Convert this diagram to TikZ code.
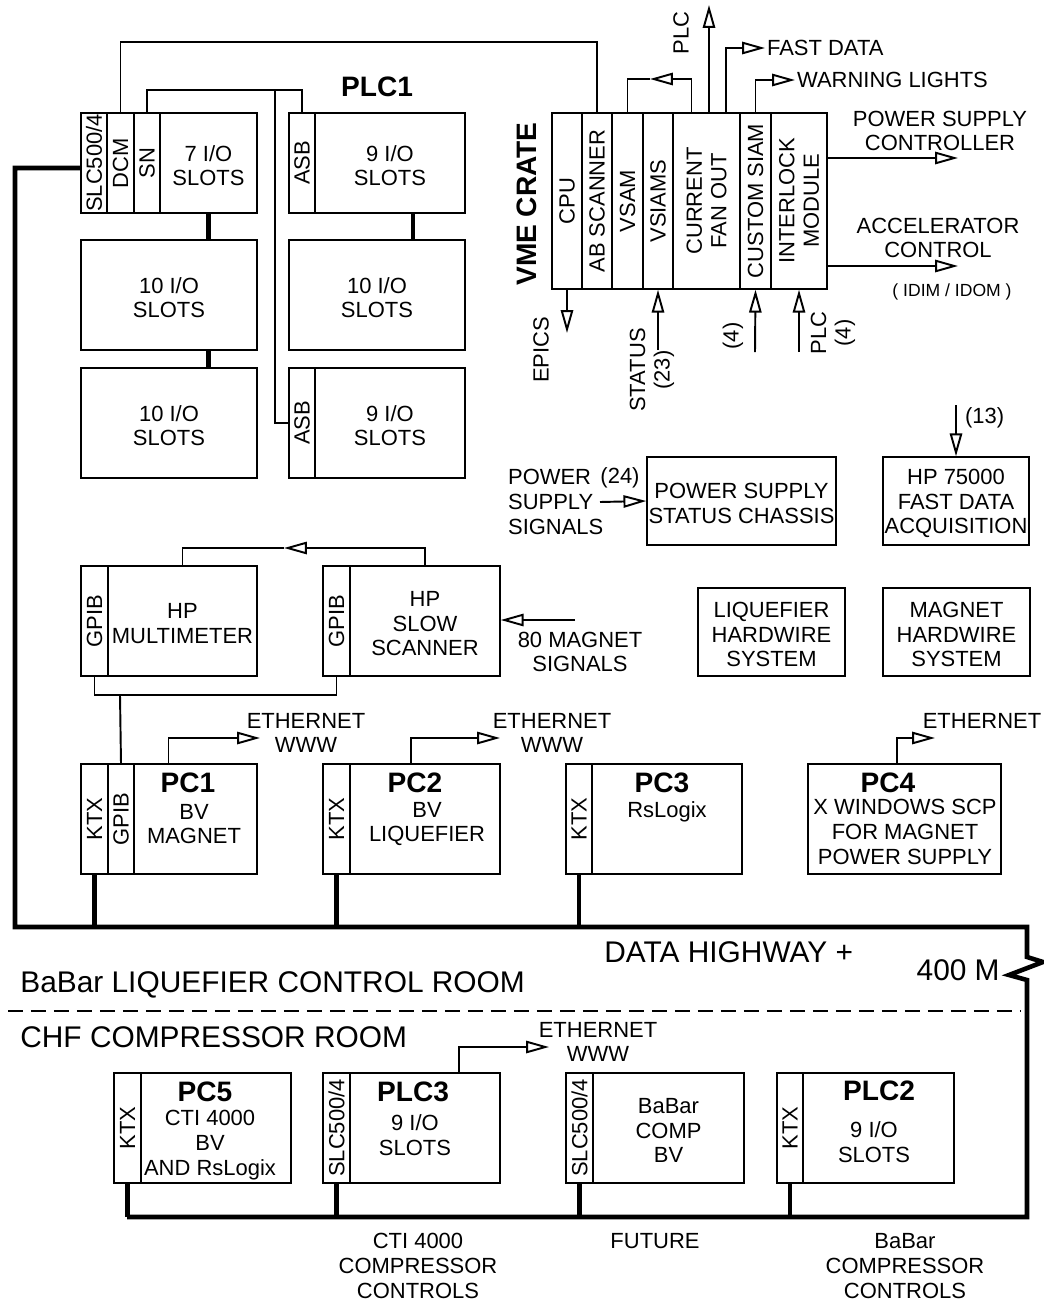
\documentclass[tikz,border=0pt]{standalone}
\usepackage{fontspec}
\setmainfont{Liberation Sans}
\usetikzlibrary{arrows.meta,fit,calc}

\tikzset{
  blk/.style={draw, line width=0.8pt, inner sep=0pt, align=center},
  txt/.style={label={[lbl, yshift=-1.5pt]center:{#1}}},
  sig/.style={line width=1.1pt},
  bus/.style={line width=2.6pt},
  otri/.style={-{Triangle[open,length=13pt,width=7pt]}},
  lbl/.style={inner sep=1pt, align=center},
  ttl/.style={inner sep=0pt, font=\bfseries\fontsize{16}{18}\selectfont},
  room/.style={inner sep=0pt, anchor=west, font=\fontsize{17}{20}\selectfont},
}

\begin{document}
\begin{tikzpicture}[x=0.02cm, y=-0.02cm, font=\fontsize{12.5}{14}\selectfont]
  \useasboundingbox (0,0) rectangle (1044,1302);

  % PLC1 rack
  \node[ttl] (plcone) at (377,87) {PLC1};
  \node[blk, fit={(81,113)(107,213)}] (slcA) {};
  \node[blk, fit={(107,113)(134,213)}] (dcm) {};
  \node[blk, fit={(134,113)(160,213)}] (sn) {};
  \node[blk, txt={7 I/O\\SLOTS}, fit={(160,113)(257,213)}] (ioA) {};
  \node[blk, fit={(289,113)(315,213)}] (asbA) {};
  \node[blk, txt={9 I/O\\SLOTS}, fit={(315,113)(465,213)}] (ioB) {};
  \node[blk, txt={10 I/O\\SLOTS}, fit={(81,240)(257,350)}] (ioC) {};
  \node[blk, txt={10 I/O\\SLOTS}, fit={(289,240)(465,350)}] (ioD) {};
  \node[blk, txt={10 I/O\\SLOTS}, fit={(81,368)(257,478)}] (ioE) {};
  \node[blk, fit={(289,368)(315,478)}] (asbC) {};
  \node[blk, txt={9 I/O\\SLOTS}, fit={(315,368)(465,478)}] (ioF) {};
  \node[rotate=90] (slcAl) at (slcA) {SLC500/4};
  \node[rotate=90] (dcml) at (dcm) {DCM};
  \node[rotate=90] (snl) at (sn) {SN};
  \node[rotate=90] (asbAl) at (asbA) {ASB};
  \node[rotate=90] (asbCl) at (asbC) {ASB};
  \draw[bus] (ioA.south) -- (ioA.south |- ioC.north);
  \draw[bus] (ioA.south |- ioC.south) -- (ioA.south |- ioE.north);
  \draw[bus] ($(ioB.south)+(23,0)$) coordinate (lk) -- (lk |- ioD.north);
  \coordinate (snj) at (275,91);
  \draw[sig] (sn.north) -- ++(0,-22) -| (asbA.north);
  \draw[sig] (snj) |- (asbC.west);

  % VME crate
  \node[ttl, rotate=90] (vmel) at (527,204) {VME CRATE};
  \node[blk, fit={(552,113)(582,289)}] (cpu) {};
  \node[blk, fit={(582,113)(612,289)}] (absc) {};
  \node[blk, fit={(612,113)(643,289)}] (vsam) {};
  \node[blk, fit={(643,113)(673,289)}] (vsiams) {};
  \node[blk, fit={(673,113)(740,289)}] (fan) {};
  \node[blk, fit={(740,113)(771,289)}] (csiam) {};
  \node[blk, fit={(771,113)(827,289)}] (intl) {};
  \node[rotate=90] (cpul) at (cpu) {CPU};
  \node[rotate=90] (abscl) at (absc) {AB SCANNER};
  \node[rotate=90] (vsaml) at (vsam) {VSAM};
  \node[rotate=90] (vsiamsl) at (vsiams) {VSIAMS};
  \node[rotate=90, align=center] (fanl) at (fan) {CURRENT\\FAN OUT};
  \node[rotate=90] (csiaml) at (csiam) {CUSTOM SIAM};
  \node[rotate=90, align=center] (intll) at (intl) {INTERLOCK\\MODULE};
  \draw[sig] (dcm.north) -- ++(0,-70) -| (absc.north);

  % VME outputs
  \coordinate (vtip) at (650,79);
  \draw[sig,otri] ($(fan.north)+(-15,0)$) |- (vtip);
  \draw[sig] (vtip) -| (vsam.north);
  \coordinate (plcup) at (709,5);
  \draw[sig,otri] (fan.north -| plcup) -- (plcup);
  \node[lbl, rotate=90] (plctop) at (681,33) {PLC};
  \node[lbl, anchor=west] (fastd) at (765,48) {FAST DATA};
  \draw[sig,otri] ($(fan.north)+(19.5,0)$) |- (fastd.west);
  \node[lbl, anchor=west] (warn) at (795,80) {WARNING LIGHTS};
  \draw[sig,otri] (csiam.north) |- (warn.west);
  \node[lbl] (pscl) at (940,131) {POWER SUPPLY\\CONTROLLER};
  \coordinate (psc) at (958,158);
  \draw[sig,otri] (intl.east |- psc) -- (psc);
  \node[lbl] (accl) at (938,238) {ACCELERATOR\\CONTROL};
  \coordinate (acc) at (958,266);
  \draw[sig,otri] (intl.east |- acc) -- (acc);
  \node[lbl, font=\fontsize{10}{12}\selectfont] (idim) at (952,292) {( IDIM / IDOM )};

  % VME inputs
  \coordinate (epx) at (567,333);
  \draw[sig,otri] (cpu.south) -- (epx);
  \node[lbl, rotate=90] (epics) at (541,350) {EPICS};
  \coordinate (stin) at (658,350);
  \draw[sig,otri] (stin) -- (vsiams.south);
  \node[lbl, rotate=90] (statl) at (652,370) {STATUS\\(23)};
  \coordinate (fourin) at (755,352);
  \draw[sig,otri] (fourin) -- (csiam.south);
  \node[lbl, rotate=90] (fourl) at (733,336) {(4)};
  \coordinate (plcin) at (799,352);
  \draw[sig,otri] (plcin) -- (intl.south);
  \node[lbl, rotate=90] (plcinl) at (833,333) {PLC\\(4)};

  % status chassis, fast data, hardwire
  \node[blk, txt={POWER SUPPLY\\STATUS CHASSIS}, fit={(647,457)(836,545)}] (psstat) {};
  \node[lbl, anchor=west, align=left] (pssig) at (506,502) {POWER\\SUPPLY\\SIGNALS};
  \node[lbl] (n24) at (620,478) {(24)};
  \coordinate (pssin) at (600,502);
  \draw[sig,otri] (pssin) -- (psstat.west);
  \node[blk, txt={HP 75000\\FAST DATA\\ACQUISITION}, fit={(883,457)(1029,545)}] (hpfast) {};
  \coordinate (in13) at (956,405);
  \draw[sig,otri] (in13) -- (hpfast.north);
  \node[lbl, anchor=west] (n13) at (963,418) {(13)};
  \node[blk, txt={LIQUEFIER\\HARDWIRE\\SYSTEM}, fit={(698,588)(845,676)}] (liqhw) {};
  \node[blk, txt={MAGNET\\HARDWIRE\\SYSTEM}, fit={(883,588)(1030,676)}] (maghw) {};

  % HP instruments
  \node[blk, fit={(81,566)(108,676)}] (gpibM) {};
  \node[blk, txt={HP\\MULTIMETER}, fit={(108,566)(257,676)}] (mult) {};
  \node[blk, fit={(323,566)(350,676)}] (gpibS) {};
  \node[blk, txt={HP\\SLOW\\SCANNER}, fit={(350,566)(500,676)}] (scan) {};
  \node[rotate=90] (gpibMl) at (gpibM) {GPIB};
  \node[rotate=90] (gpibSl) at (gpibS) {GPIB};
  \coordinate (hptip) at (284,548);
  \draw[sig,otri] (scan.north) |- (hptip);
  \draw[sig] (hptip) -| (mult.north);
  \coordinate (m80) at (575,620);
  \draw[sig,otri] (m80) -- (scan.east |- m80);
  \node[lbl] (m80l) at (580,652) {80 MAGNET\\SIGNALS};

  % PCs
  \node[blk, fit={(81,764)(108,874)}] (ktxA) {};
  \node[blk, fit={(108,764)(134,874)}] (gpibP) {};
  \node[blk, fit={(134,764)(257,874)}] (pcA) {};
  \node[rotate=90] (ktxAl) at (ktxA) {KTX};
  \node[rotate=90] (gpibPl) at (gpibP) {GPIB};
  \node[ttl] (pcAt) at (188,783) {PC1};
  \node[lbl] (pcAb) at (194,824) {BV\\MAGNET};
  \node[blk, fit={(323,764)(350,874)}] (ktxB) {};
  \node[blk, fit={(350,764)(500,874)}] (pcB) {};
  \node[rotate=90] (ktxBl) at (ktxB) {KTX};
  \node[ttl] (pcBt) at (415,783) {PC2};
  \node[lbl] (pcBb) at (427,824) {BV\\LIQUEFIER};
  \node[blk, fit={(566,764)(592,874)}] (ktxC) {};
  \node[blk, fit={(592,764)(742,874)}] (pcC) {};
  \node[rotate=90] (ktxCl) at (ktxC) {KTX};
  \node[ttl] (pcCt) at (662,783) {PC3};
  \node[lbl] (pcCb) at (667,812) {RsLogix};
  \node[blk, fit={(808,764)(1001,874)}] (pcD) {};
  \node[ttl] (pcDt) at (888,783) {PC4};
  \node[lbl] (pcDb) at (905,832) {X WINDOWS SCP\\FOR MAGNET\\POWER SUPPLY};
  \coordinate (gpj) at (120,695);
  \draw[sig] (gpibM.south) |- (gpj) -| (gpibS.south);
  \draw[sig] (gpj) -- (gpibP.north);

  % ethernet
  \coordinate (ethA) at (260,738);
  \draw[sig,otri] ($(pcA.north)+(-27,0)$) |- (ethA);
  \node[lbl] (ethAl) at (306,733) {ETHERNET\\WWW};
  \coordinate (ethB) at (500,738);
  \draw[sig,otri] ($(pcB.north)+(-14,0)$) |- (ethB);
  \node[lbl] (ethBl) at (552,733) {ETHERNET\\WWW};
  \coordinate (ethD) at (935,738);
  \draw[sig,otri] ($(pcD.north)+(-7.5,0)$) |- (ethD);
  \node[lbl] (ethDl) at (982,721) {ETHERNET};

  % data highway
  \coordinate (hwyL) at (15,927);
  \coordinate (hwyR) at (1027,927);
  \coordinate (busL) at (127,1217);
  \draw[bus] ($(slcA.west)+(0,5)$) -| (hwyL) -- (hwyR) -- ++(0,30) -- ++(16,5) -- ++(-34,13) -- ++(18,5) |- (busL);
  \draw[bus] (ktxA.south) -- (ktxA.south |- hwyL);
  \draw[bus] (ktxB.south) -- (ktxB.south |- hwyL);
  \draw[bus] (ktxC.south) -- (ktxC.south |- hwyL);
  \node[room] (dhl) at (604,952) {DATA HIGHWAY +};
  \node[room, anchor=east] (dist) at (1000,970) {400 M};

  % rooms
  \node[room] (roomA) at (20,985) {BaBar LIQUEFIER CONTROL ROOM};
  \draw[sig, dash pattern=on 0.3cm off 0.16cm] (8,1011) -- (1020,1011);
  \node[room] (roomB) at (20,1037) {CHF COMPRESSOR ROOM};

  % compressor room
  \node[blk, fit={(114,1073)(141,1183)}] (ktxE) {};
  \node[blk, fit={(141,1073)(291,1183)}] (pcE) {};
  \node[rotate=90] (ktxEl) at (ktxE) {KTX};
  \node[ttl] (pcEt) at (205,1092) {PC5};
  \node[lbl] (pcEb) at (210,1145) {CTI 4000\\BV\\AND RsLogix};
  \node[blk, fit={(323,1073)(350,1183)}] (slcC) {};
  \node[blk, fit={(350,1073)(500,1183)}] (plcC) {};
  \node[rotate=90] (slcCl) at (slcC) {SLC500/4};
  \node[ttl] (plcCt) at (413,1092) {PLC3};
  \node[lbl] (plcCb) at (415,1135) {9 I/O\\SLOTS};
  \node[blk, fit={(566,1073)(593,1183)}] (slcD) {};
  \node[blk, txt={BaBar\\COMP\\BV}, fit={(593,1073)(744,1183)}] (comp) {};
  \node[rotate=90] (slcDl) at (slcD) {SLC500/4};
  \node[blk, fit={(777,1073)(803,1183)}] (ktxF) {};
  \node[blk, fit={(803,1073)(954,1183)}] (plcB) {};
  \node[rotate=90] (ktxFl) at (ktxF) {KTX};
  \node[ttl] (plcBt) at (879,1091) {PLC2};
  \node[lbl] (plcBb) at (874,1142) {9 I/O\\SLOTS};
  \coordinate (ethE) at (549,1047);
  \draw[sig,otri] ($(plcC.north)+(34,0)$) |- (ethE);
  \node[lbl] (ethEl) at (598,1042) {ETHERNET\\WWW};
  \draw[bus] (ktxE.south) -- (ktxE.south |- busL);
  \draw[bus] (slcC.south) -- (slcC.south |- busL);
  \draw[bus] (slcD.south) -- (slcD.south |- busL);
  \draw[bus] (ktxF.south) -- (ktxF.south |- busL);
  \node[lbl] (ctil) at (418,1266) {CTI 4000\\COMPRESSOR\\CONTROLS};
  \node[lbl] (futl) at (655,1241) {FUTURE};
  \node[lbl] (babl) at (905,1266) {BaBar\\COMPRESSOR\\CONTROLS};
\end{tikzpicture}
\end{document}
